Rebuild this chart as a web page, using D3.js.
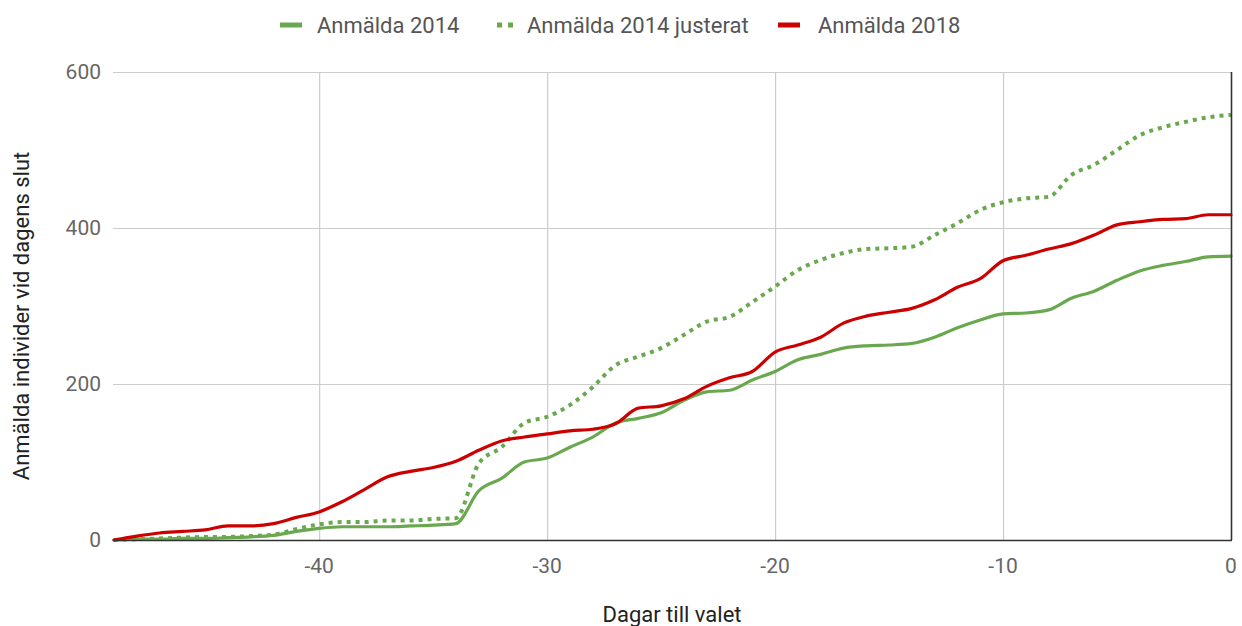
<!DOCTYPE html>
<html>
<head>
<meta charset="utf-8">
<script src="https://cdn.jsdelivr.net/npm/d3@7"></script>
<style>
  html, body { margin: 0; padding: 0; background: #fff; }
  svg { display: block; font-family: Roboto, "Noto Sans", sans-serif; }
</style>
</head>
<body>
<svg id="chart" width="1242" height="626"></svg>
<script>
const days = d3.range(-49, 1);
const anmalda2014 = [0,1,1,2,2,3,4,6,11,15,17,17,17,18,19,21,63,79,100,105,119,132,150,156,163,179,190,192,205,216,231,238,246,249,250,252,260,272,282,290,291,295,310,319,333,345,352,357,363,364];
const anmalda2014Justerat = [0,1,2,3,4,4,5,7,14,20,23,23,25,25,27,28,98,119,150,158,173,196,224,235,246,263,280,286,305,325,346,359,368,373,374,376,391,406,423,433,438,440,468,481,500,519,529,536,542,545];
const anmalda2018 = [0,5,9,11,13,18,18,21,29,36,49,65,81,88,93,101,115,127,132,136,140,142,149,169,172,181,197,208,216,241,250,260,278,287,292,297,308,324,335,358,365,373,380,391,404,408,411,412,417,417];
const xTicks = [-40, -30, -20, -10, 0];
const yTicks = [0, 200, 400, 600];
const seriesNames = ["Anmälda 2014", "Anmälda 2014 justerat", "Anmälda 2018"];
const seriesColors = ["#6aa84f", "#6aa84f", "#cc0000"];

(function () {
const svg = d3.select("#chart");
const pLeft = 114, pRight = 1231, pTop = 72, pBottom = 540;
const x = d3.scaleLinear().domain([-49, 0]).range([pLeft, pRight]);
const y = d3.scaleLinear().domain([0, 600]).range([pBottom, pTop]);

// horizontal gridlines
svg.append("g").selectAll("line").data(yTicks.filter(d => d > 0)).join("line")
  .attr("x1", pLeft - 1).attr("x2", pRight)
  .attr("y1", d => y(d) + 0.5).attr("y2", d => y(d) + 0.5)
  .attr("stroke", "#cccccc").attr("stroke-width", 1.2);
// vertical gridlines
svg.append("g").selectAll("line").data(xTicks.filter(d => d < 0)).join("line")
  .attr("x1", d => x(d) + 0.5).attr("x2", d => x(d) + 0.5)
  .attr("y1", pTop).attr("y2", pBottom)
  .attr("stroke", "#cccccc").attr("stroke-width", 1.2);

// y tick labels
svg.append("g").selectAll("text").data(yTicks).join("text")
  .attr("x", 101).attr("y", d => y(d)).attr("dy", "0.35em")
  .attr("text-anchor", "end").attr("fill", "#666").attr("font-size", 21)
  .text(d => d);
// x tick labels
svg.append("g").selectAll("text").data(xTicks).join("text")
  .attr("x", d => x(d)).attr("y", 566).attr("dy", "0.35em")
  .attr("text-anchor", "middle").attr("fill", "#666").attr("font-size", 21)
  .text(d => d);

// axis titles
svg.append("text").attr("x", 672).attr("y", 614).attr("dy", "0.35em")
  .attr("text-anchor", "middle").attr("fill", "#222").attr("font-size", 22)
  .text("Dagar till valet");
svg.append("text").attr("transform", "translate(21,316) rotate(-90)").attr("dy", "0.35em")
  .attr("text-anchor", "middle").attr("fill", "#222").attr("font-size", 22)
  .text("Anmälda individer vid dagens slut");

// lines
const line = d3.line().x((d, i) => x(days[i])).y(d => y(d)).curve(d3.curveMonotoneX);
const data = [anmalda2014, anmalda2014Justerat, anmalda2018];
data.forEach((vals, k) => {
  const p = svg.append("path").datum(vals)
    .attr("d", line)
    .attr("fill", "none")
    .attr("stroke", seriesColors[k]);
  if (k === 1) {
    p.attr("stroke-width", 4).attr("stroke-dasharray", "4,5");
  } else {
    p.attr("stroke-width", 3.2).attr("stroke-linejoin", "round").attr("stroke-linecap", "round");
  }
});

// baseline and right axis line
svg.append("line").attr("x1", pLeft).attr("x2", pRight + 1)
  .attr("y1", pBottom + 0.5).attr("y2", pBottom + 0.5)
  .attr("stroke", "#333").attr("stroke-width", 1.6);
svg.append("line").attr("x1", pRight + 0.5).attr("x2", pRight + 0.5)
  .attr("y1", pTop).attr("y2", pBottom)
  .attr("stroke", "#333").attr("stroke-width", 1.6);

// legend
const legendItems = [
  { name: seriesNames[0], color: seriesColors[0], icon: 280, text: 317, dashed: false },
  { name: seriesNames[1], color: seriesColors[1], icon: 497, text: 527, dashed: true },
  { name: seriesNames[2], color: seriesColors[2], icon: 778, text: 818, dashed: false }
];
const lg = svg.append("g");
legendItems.forEach(it => {
  if (it.dashed) {
    lg.append("line").attr("x1", it.icon).attr("x2", it.icon + 16)
      .attr("y1", 25).attr("y2", 25)
      .attr("stroke", it.color).attr("stroke-width", 5).attr("stroke-dasharray", "5,6");
  } else {
    lg.append("line").attr("x1", it.icon).attr("x2", it.icon + 22)
      .attr("y1", 25).attr("y2", 25)
      .attr("stroke", it.color).attr("stroke-width", 5);
  }
  lg.append("text").attr("x", it.text).attr("y", 25).attr("dy", "0.35em")
    .attr("fill", "#555").attr("font-size", 22).text(it.name);
});
})();
</script>
</body>
</html>
